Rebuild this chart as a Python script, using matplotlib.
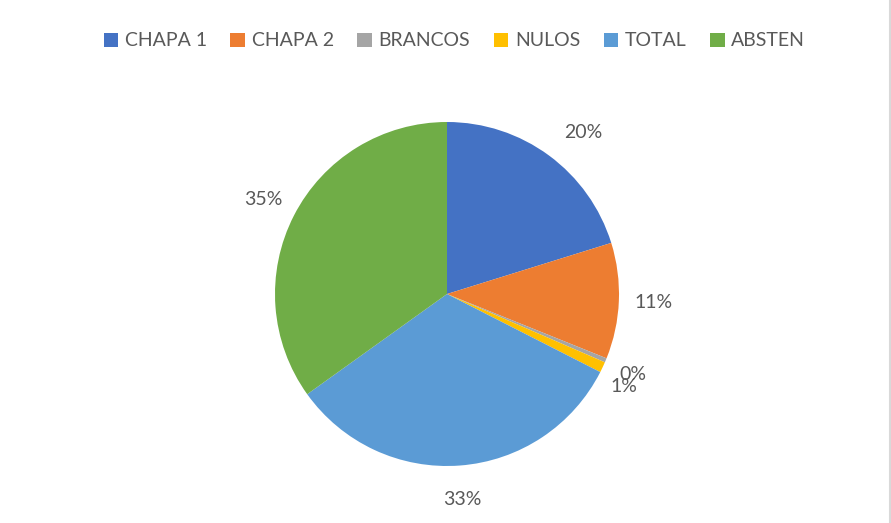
import matplotlib.pyplot as plt
from matplotlib.patches import Patch
from matplotlib.lines import Line2D

# share of each group (percent)
labels = ["CHAPA 1", "CHAPA 2", "BRANCOS", "NULOS", "TOTAL", "ABSTEN"]
shares = [20.2, 10.9, 0.4, 1.0, 32.6, 34.9]
colors = ["#4472C4", "#ED7D31", "#A5A5A5", "#FFC000", "#5B9BD5", "#70AD47"]

text_color = "#595959"
plt.rcParams['font.family'] = ['Lato', 'DejaVu Sans']

fig = plt.figure(figsize=(8.91, 5.23), dpi=100)
W, H = 891, 523
cx, cy, r = 447, 294, 172
ax = fig.add_axes([(cx - r) / W, (H - cy - r) / H, 2 * r / W, 2 * r / H])

wedges, texts, autotexts = ax.pie(shares, colors=colors, startangle=90,
                                  counterclock=False, autopct="%1.0f%%",
                                  pctdistance=1.2,
                                  wedgeprops=dict(linewidth=0))
for t in autotexts:
    t.set_color(text_color)
    t.set_fontsize(14)

# labels nudged to where the original puts them
autotexts[0].set_position((0.79, 0.94))
autotexts[2].set_position((1.08, -0.47))
autotexts[3].set_position((1.03, -0.54))

ax.set_aspect("equal")
ax.set_xlim(-1, 1)
ax.set_ylim(-1, 1)
ax.axis("off")

handles = [Patch(facecolor=c, edgecolor="none") for c in colors]
fig.legend(handles, labels, loc="center", bbox_to_anchor=(0.51, 1 - 41 / H),
           ncol=6, frameon=False, fontsize=14, labelcolor=text_color,
           handlelength=0.75, handleheight=0.75, handletextpad=0.35,
           columnspacing=1.2)

fig.add_artist(Line2D([889.5 / W, 889.5 / W], [0, 1], color="#D9D9D9",
                      linewidth=1.5, transform=fig.transFigure))

fig.savefig("out.png", dpi=100)
